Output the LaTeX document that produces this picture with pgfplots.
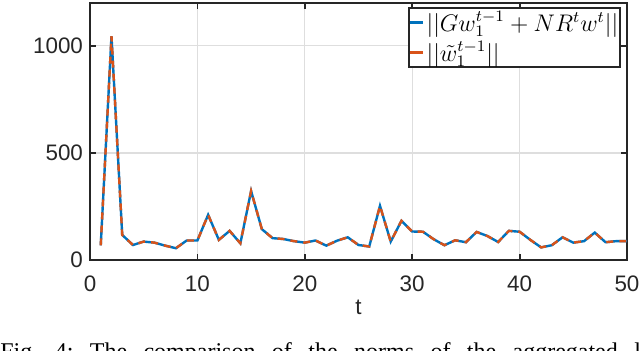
\documentclass[border=0pt]{standalone}
\usepackage{fontspec}
\setmainfont{Liberation Sans}
\newfontfamily\capfont{Liberation Serif}
\usepackage{pgfplots}
\usepackage{pgfplotstable}
\pgfplotsset{compat=1.18}

\definecolor{mblue}{rgb}{0,0.447,0.741}
\definecolor{morange}{rgb}{0.85,0.325,0.098}

% norm per round t
\pgfplotstableread{
t v
1 68
2 1045
3 117
4 70
5 86
6 81
7 67
8 55
9 91
10 91
11 211
12 94
13 136
14 78
15 322
16 144
17 102
18 98
19 88
20 81
21 91
22 67
23 90
24 106
25 70
26 63
27 253
28 86
29 183
30 133
31 132
32 97
33 69
34 92
35 83
36 131
37 112
38 84
39 136
40 132
41 94
42 59
43 69
44 106
45 81
46 88
47 128
48 83
49 88
50 88
}\normdata

\begin{document}
\begin{tikzpicture}
\clip (-45pt,-45.5pt) rectangle (275pt,130pt);
\begin{axis}[
    width=268.5pt, height=128.5pt, scale only axis,
    xmin=0, xmax=50, ymin=0, ymax=1200,
    xtick={0,10,...,50}, ytick={0,500,1000},
    tick align=inside, major tick length=3pt,
    xmajorgrids, ymajorgrids,
    grid style={black!13, line width=0.6pt},
    axis line style={line width=0.9pt, black!85},
    every tick/.style={black!85, line width=0.9pt},
    tick label style={font=\fontsize{11.2}{13}\selectfont, black!85},
    xticklabel style={yshift=-4.5pt},
    /pgf/number format/assume math mode=true,
    /pgf/number format/1000 sep={},
    xlabel={t},
    xlabel style={font=\fontsize{11.2}{13}\selectfont, black!85, yshift=3pt},
    legend style={at={(rel axis cs:1,1)}, anchor=north east,
        xshift=-3pt, yshift=-2pt, draw=black!85, line width=0.8pt,
        font=\fontsize{12}{14}\selectfont,
        inner xsep=0pt, inner ysep=1pt, row sep=2.5pt,
        nodes={inner xsep=1pt, inner ysep=0.5pt}},
    legend cell align=left,
    legend image code/.code={\draw[#1, solid] (-1.5pt,0pt) -- (5pt,0pt);},
]
\addplot[mblue, line width=1.2pt] table[x=t, y=v] {\normdata};
\addlegendentry{$||Gw_1^{t-1}+NR^tw^t||$}
\addplot[morange, line width=1.2pt, dash pattern=on 3.5pt off 3pt] table[x=t, y=v] {\normdata};
\addlegendentry{$||\tilde{w}_1^{t-1}||$}
\end{axis}
\node[anchor=base west, inner sep=0pt, font=\capfont\fontsize{12}{14}\selectfont]
    at (-45pt,-49.9pt) {\spaceskip=8.2pt\xspaceskip=8.2pt Fig. 4: The comparison of the norms of the aggregated local model};
\end{tikzpicture}
\end{document}
